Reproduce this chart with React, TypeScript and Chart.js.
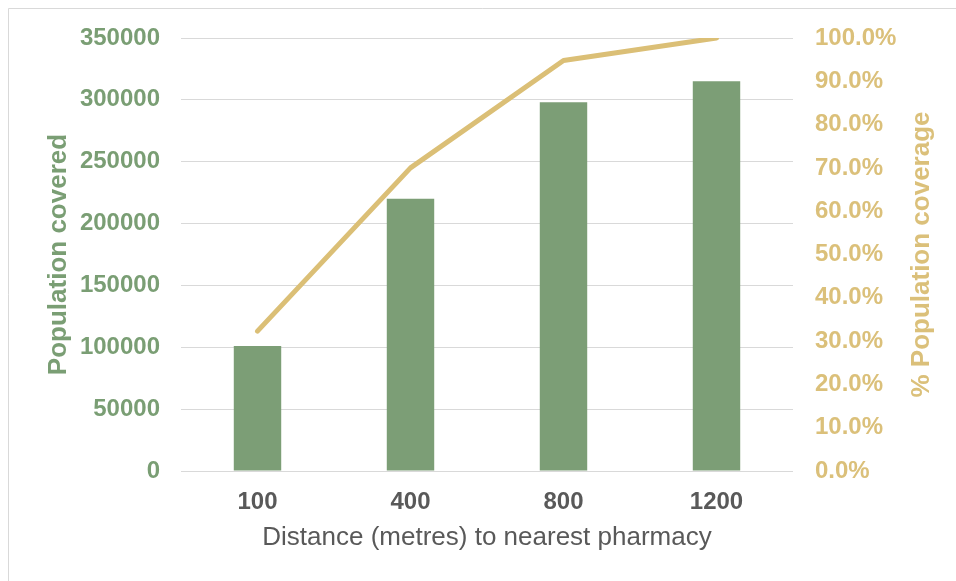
import React, { useEffect, useRef } from "react";
import { Chart, registerables } from "chart.js";

Chart.register(...registerables);

const categories = ["100", "400", "800", "1200"];
const populationCovered = [101000, 220000, 298000, 315000];
const populationCoverage = [0.323, 0.70, 0.948, 1.0];

const leftTicksMax = 350000;
const leftTicksStep = 50000;
const rightTicksMax = 1.0;
const rightTicksStep = 0.1;

const GREEN = "#7C9E76";
const GREEN_TEXT = "#7A9E74";
const GOLD = "#DBBF76";
const GOLD_TEXT = "#DBC07A";
const GRAY_TEXT = "#595959";
const GRID = "#D9D9D9";
const FONT = "'Liberation Sans', Arial, sans-serif";

export default function App() {
  const ref = useRef<HTMLCanvasElement | null>(null);

  useEffect(() => {
    const canvas = ref.current;
    if (!canvas) return;

    const framePlugin = {
      id: "frame",
      beforeDraw(chart: any) {
        const ctx = chart.ctx;
        ctx.save();
        ctx.fillStyle = "#ffffff";
        ctx.fillRect(0, 0, chart.width, chart.height);
        ctx.strokeStyle = GRID;
        ctx.lineWidth = 1;
        ctx.beginPath();
        ctx.moveTo(8.5, chart.height);
        ctx.lineTo(8.5, 8.5);
        ctx.lineTo(chart.width, 8.5);
        ctx.stroke();
        ctx.restore();
      },
      afterDraw(chart: any) {
        const ctx = chart.ctx;
        const a = chart.chartArea;
        ctx.save();
        ctx.translate(922, (a.top + a.bottom) / 2);
        ctx.rotate(-Math.PI / 2);
        ctx.font = `bold 26px ${FONT}`;
        ctx.fillStyle = GOLD_TEXT;
        ctx.textAlign = "center";
        ctx.textBaseline = "middle";
        ctx.fillText("% Population coverage", 0, 0);
        ctx.restore();
      },
    };

    const chart = new Chart(canvas, {
      type: "bar",
      data: {
        labels: categories,
        datasets: [
          {
            type: "line",
            label: "% Population coverage",
            data: populationCoverage,
            yAxisID: "y1",
            borderColor: GOLD,
            borderWidth: 5,
            borderCapStyle: "round",
            borderJoinStyle: "round",
            pointRadius: 0,
            tension: 0,
            order: 0,
          } as any,
          {
            type: "bar",
            label: "Population covered",
            data: populationCovered,
            yAxisID: "y",
            backgroundColor: GREEN,
            barPercentage: 0.31,
            categoryPercentage: 1,
            order: 1,
          } as any,
        ],
      },
      options: {
        animation: false,
        responsive: true,
        maintainAspectRatio: false,
        layout: { padding: { top: 38, left: 0, right: 0, bottom: 0 } },
        plugins: {
          legend: { display: false },
          tooltip: { enabled: false },
        },
        scales: {
          x: {
            grid: { display: false, drawTicks: false },
            border: { display: false },
            ticks: {
              color: GRAY_TEXT,
              font: { family: FONT, size: 24, weight: "bold" },
              padding: 17,
            },
            title: {
              display: true,
              text: "Distance (metres) to nearest pharmacy",
              color: GRAY_TEXT,
              font: { family: FONT, size: 26, weight: "normal" },
              padding: { top: 0, bottom: 28 },
            },
            afterFit(scale: any) {
              scale.height = 110;
            },
          },
          y: {
            position: "left",
            min: 0,
            max: leftTicksMax,
            grid: { color: GRID, lineWidth: 1, drawTicks: false },
            border: { display: false },
            ticks: {
              stepSize: leftTicksStep,
              color: GREEN_TEXT,
              font: { family: FONT, size: 24, weight: "bold" },
              padding: 21,
              autoSkip: false,
              callback: (v: any) => String(v),
            },
            title: {
              display: true,
              text: "Population covered",
              color: GREEN_TEXT,
              font: { family: FONT, size: 26, weight: "bold" },
              padding: { top: 43, bottom: 0 },
            },
            afterFit(scale: any) {
              scale.width = 181;
            },
          },
          y1: {
            position: "right",
            min: 0,
            max: rightTicksMax,
            grid: { display: false, drawTicks: false },
            border: { display: false },
            ticks: {
              stepSize: rightTicksStep,
              color: GOLD_TEXT,
              font: { family: FONT, size: 24, weight: "bold" },
              padding: 22,
              autoSkip: false,
              callback: (v: any) => (Number(v) * 100).toFixed(1) + "%",
            },
            afterFit(scale: any) {
              scale.width = 163;
            },
          },
        },
      } as any,
      plugins: [framePlugin],
    });

    return () => chart.destroy();
  }, []);

  return (
    <div style={{ position: "fixed", left: 0, top: 0, width: 956, height: 581 }}>
      <canvas ref={ref} />
    </div>
  );
}
